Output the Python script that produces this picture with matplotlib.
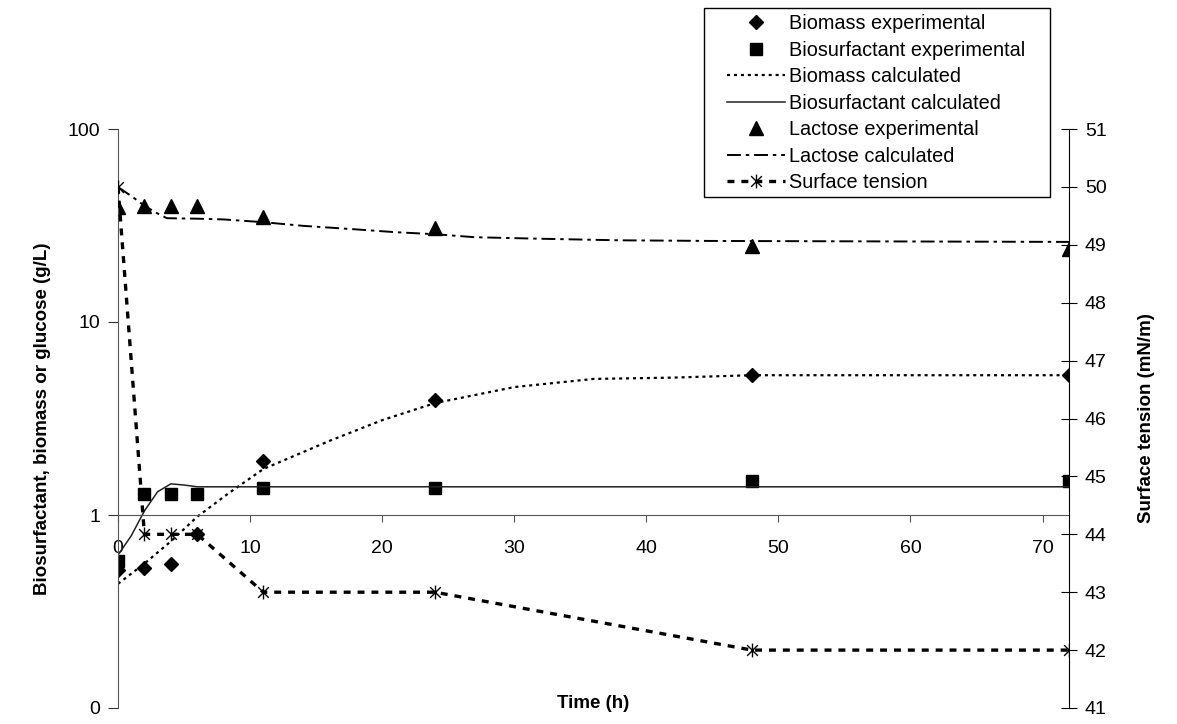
import numpy as np
import matplotlib
matplotlib.use("Agg")
import matplotlib.pyplot as plt
from matplotlib.path import Path
from matplotlib.patches import Rectangle
from matplotlib.ticker import FixedLocator, NullLocator

plt.rcParams["font.family"] = ["Liberation Sans", "DejaVu Sans"]
plt.rcParams["lines.scale_dashes"] = False

# experimental sampling times (h)
t_exp = [0, 2, 4, 6, 11, 24, 48, 72]
biomass_exp = [0.52, 0.53, 0.56, 0.80, 1.90, 3.95, 5.3, 5.3]
biosurf_exp = [0.58, 1.28, 1.28, 1.28, 1.38, 1.38, 1.5, 1.5]
lactose_exp = [39.3, 39.8, 39.8, 39.8, 34.9, 30.6, 24.7, 23.8]
surf_tension = [50, 44, 44, 44, 43, 43, 42, 42]

# model curves
t_bm = [0, 2, 4, 6, 8.4, 11, 16, 20, 24, 30, 36, 42, 48, 72]
biomass_calc = [0.44, 0.56, 0.73, 0.98, 1.30, 1.73, 2.42, 3.1, 3.8, 4.6, 5.07, 5.15, 5.3, 5.3]
t_bs = [0, 1, 2, 3, 4, 5, 6, 72]
biosurf_calc = [0.62, 0.78, 1.05, 1.32, 1.45, 1.43, 1.40, 1.40]
t_lac = [0, 1, 2, 3, 3.7, 6, 8, 11, 14, 18, 21, 24, 27, 32, 38, 45, 72]
lactose_calc = [50, 45, 40, 36.5, 34.5, 34.3, 34.0, 32.9, 31.5, 30.2, 29.2, 28.5, 27.5, 27.0, 26.5, 26.3, 26.0]

# asterisk marker: x with a vertical bar
star = Path([(-1, -1), (1, 1), (-1, 1), (1, -1), (0, -1.3), (0, 1.3)],
            [Path.MOVETO, Path.LINETO, Path.MOVETO, Path.LINETO, Path.MOVETO, Path.LINETO])

fig = plt.figure(figsize=(11.77, 7.24), dpi=100)
ax = fig.add_axes([118 / 1177, 1 - 708 / 724, (1069 - 118) / 1177, (708 - 129) / 724])
ax2 = ax.twinx()

h1, = ax.plot(t_exp, biomass_exp, ls="none", marker="D", ms=7, color="black", label="Biomass experimental")
h2, = ax.plot(t_exp, biosurf_exp, ls="none", marker="s", ms=9, color="black", label="Biosurfactant experimental")
h3, = ax.plot(t_bm, biomass_calc, ls=(0, (2.2, 2.8)), lw=1.6, color="black", label="Biomass calculated")
h4, = ax.plot(t_bs, biosurf_calc, ls="-", lw=1.1, color="#222222", label="Biosurfactant calculated")
h5, = ax.plot(t_exp, lactose_exp, ls="none", marker="^", ms=10, color="black", label="Lactose experimental")
h6, = ax.plot(t_lac, lactose_calc, ls=(0, (10, 3.5, 2.5, 3.5)), lw=1.4, color="black", label="Lactose calculated")
h7, = ax2.plot(t_exp, surf_tension, ls=(0, (5, 5)), lw=2.4, color="black", marker=star, ms=10,
               mew=1.0, mfc="none", mec="black", label="Surface tension")

ax.set_yscale("log")
ax.set_ylim(0.1, 100)
ax.set_xlim(0, 72)
ax.yaxis.set_major_locator(FixedLocator([0.1, 1, 10, 100]))
ax.yaxis.set_minor_locator(NullLocator())
ax.set_yticklabels(["0", "1", "10", "100"])
ax.set_xticks(range(0, 71, 10))
ax.spines["bottom"].set_position(("data", 1))
ax.spines["top"].set_visible(False)
ax.spines["right"].set_visible(False)
ax.spines["left"].set_color("#555555")
ax.spines["bottom"].set_color("#555555")
ax.tick_params(axis="y", direction="out", length=7, color="#333333", labelsize=14, pad=6)
ax.tick_params(axis="x", direction="out", length=5, color="#555555", labelsize=14, pad=13)

ax2.set_ylim(41, 51)
ax2.set_yticks(range(41, 52))
for s in ["top", "left", "bottom"]:
    ax2.spines[s].set_visible(False)
ax2.spines["right"].set_color("black")
ax2.tick_params(axis="y", direction="inout", length=11, labelsize=14, pad=6)

ax.set_ylabel("Biosurfactant, biomass or glucose (g/L)", fontsize=13.5, fontweight="bold", labelpad=12)
ax2.set_ylabel("Surface tension (mN/m)", fontsize=13.5, fontweight="bold", labelpad=22)
fig.text(593 / 1177, 1 - 703 / 724, "Time (h)", ha="center", va="center", fontsize=13.5, fontweight="bold")

# legend box drawn separately, entries placed inside it
fig.patches.append(Rectangle((704 / 1177, 1 - 197 / 724), (1050 - 704) / 1177, (197 - 8) / 724,
                             transform=fig.transFigure, fill=False, edgecolor="black", lw=1.0))
leg = fig.legend(handles=[h1, h2, h3, h4, h5, h6, h7], loc="upper left",
                 bbox_to_anchor=(727 / 1177, 1 - 14 / 724), fontsize=14.3,
                 frameon=False, borderaxespad=0, borderpad=0,
                 labelspacing=0.38, handlelength=2.9, handletextpad=0.2)

fig.savefig("out.png", dpi=100)
